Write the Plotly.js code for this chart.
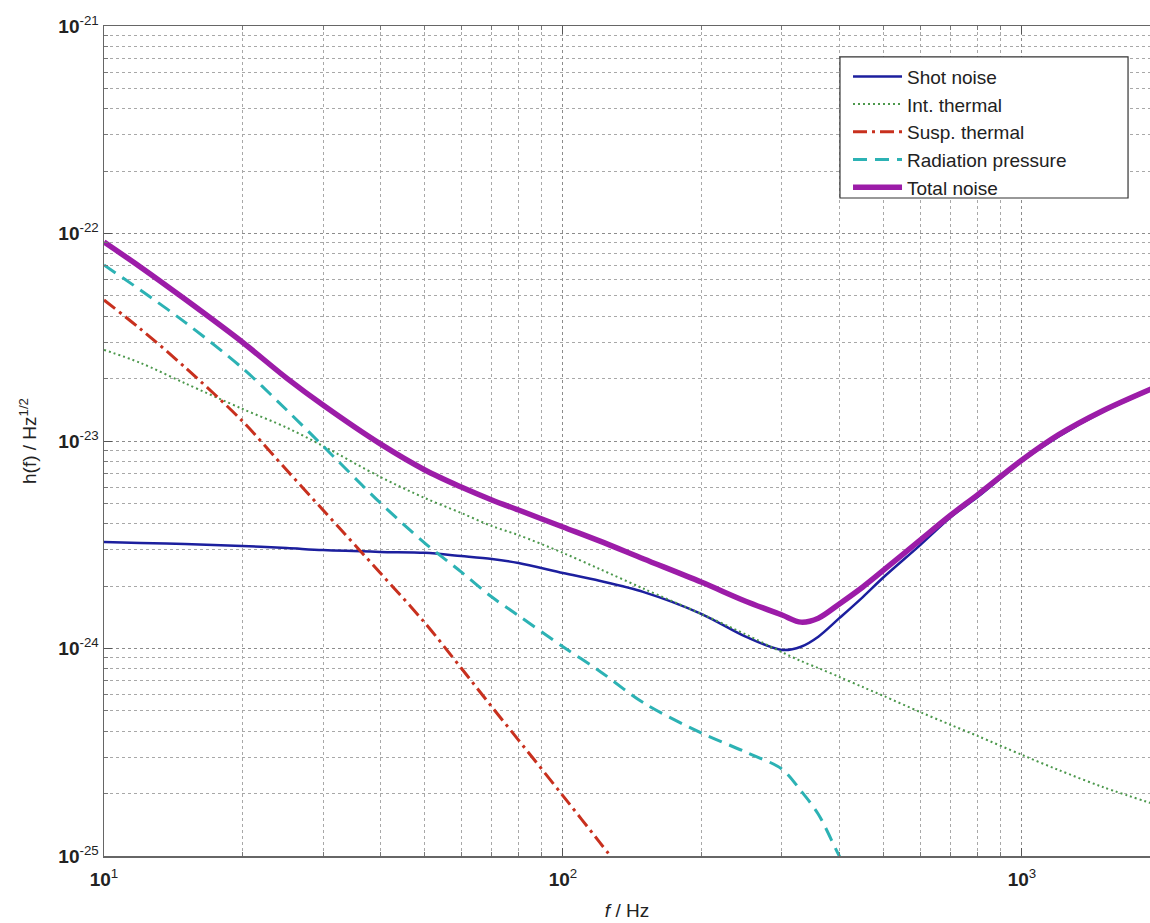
<!DOCTYPE html>
<html>
<head>
<meta charset="utf-8">
<script src="https://cdn.plot.ly/plotly-3.0.1.min.js"></script>
<style>html,body{margin:0;padding:0;background:#fff;overflow:hidden}</style>
</head>
<body>
<div id="chart" style="width:1150px;height:923px"></div>
<script>
// Frequencies (Hz)
var freq = [10,12,15,20,25,30,40,50,60,70,80,100,120,150,200,250,300,330,360,400,450,500,600,700,800,1000,1200,1500,2000];
// Shot noise
var shotNoise = [3.26e-24,3.22e-24,3.19e-24,3.12e-24,3.05e-24,2.98e-24,2.92e-24,2.89e-24,2.79e-24,2.70e-24,2.58e-24,2.31e-24,2.12e-24,1.87e-24,1.47e-24,1.14e-24,0.984e-24,1.02e-24,1.14e-24,1.40e-24,1.77e-24,2.21e-24,3.15e-24,4.30e-24,5.37e-24,8.0e-24,1.05e-23,1.38e-23,1.84e-23];
// Internal thermal
var intThermal = [2.75e-23,2.38e-23,1.90e-23,1.43e-23,1.16e-23,9.46e-24,6.71e-24,5.31e-24,4.50e-24,3.89e-24,3.52e-24,2.89e-24,2.42e-24,1.94e-24,1.47e-24,1.17e-24,9.6e-25,8.7e-25,8.05e-25,7.29e-25,6.52e-25,5.9e-25,4.94e-25,4.28e-25,3.79e-25,3.07e-25,2.6e-25,2.15e-25,1.74e-25];
// Suspension thermal
var suspThermal = [4.78e-23,3.47e-23,2.27e-23,1.25e-23,7.24e-24,4.65e-24,2.31e-24,1.33e-24,8.05e-25,5.23e-25,3.62e-25,1.95e-25,1.17e-25,6.2e-26,null,null,null,null,null,null,null,null,null,null,null,null,null,null,null];
// Radiation pressure
var radPressure = [7.05e-23,5.34e-23,3.74e-23,2.25e-23,1.41e-23,9.46e-24,5.03e-24,3.22e-24,2.34e-24,1.77e-24,1.44e-24,1.02e-24,7.8e-25,5.46e-25,3.92e-25,3.17e-25,2.62e-25,2.06e-25,1.59e-25,1.0e-25,6.2e-26,null,null,null,null,null,null,null,null];
// Total noise
var totalNoise = [9.1e-23,6.9e-23,4.83e-23,3.0e-23,2.01e-23,1.49e-23,9.68e-24,7.25e-24,6.0e-24,5.2e-24,4.65e-24,3.85e-24,3.30e-24,2.70e-24,2.09e-24,1.69e-24,1.45e-24,1.34e-24,1.40e-24,1.64e-24,1.98e-24,2.39e-24,3.33e-24,4.40e-24,5.50e-24,8.1e-24,1.07e-23,1.40e-23,1.86e-23];

var seriesNames = ["Shot noise","Int. thermal","Susp. thermal","Radiation pressure","Total noise"];

var xTickVals = [10,100,1000];
var xTickText = ["<b>10</b><sup>1</sup>","<b>10</b><sup>2</sup>","<b>10</b><sup>3</sup>"];
var yTickVals = [1e-25,1e-24,1e-23,1e-22,1e-21];
var yTickText = ["<b>10</b><sup>-25</sup>","<b>10</b><sup>-24</sup>","<b>10</b><sup>-23</sup>","<b>10</b><sup>-22</sup>","<b>10</b><sup>-21</sup>"];

var xMinor = [], yMinor = [];
for (var d = 1; d <= 3; d++) for (var m = 2; m <= 9; m++) xMinor.push(m * Math.pow(10, d));
for (var e = -25; e <= -22; e++) for (var k = 2; k <= 9; k++) yMinor.push(k * Math.pow(10, e));

var sm = 0.9;
var traces = [
  {x: freq, y: shotNoise, name: seriesNames[0], mode: "lines", line: {color: "#1c1f9e", width: 2.5, shape: "spline", smoothing: sm}, legendgroup: "a"},
  {x: freq, y: intThermal, name: seriesNames[1], mode: "lines", line: {color: "#4c984c", width: 2, dash: "2px,3px", shape: "spline", smoothing: sm}, legendgroup: "b"},
  {x: freq, y: suspThermal, name: seriesNames[2], mode: "lines", line: {color: "#c8301e", width: 3, dash: "14px,5px,3px,5px", shape: "spline", smoothing: sm}, legendgroup: "c"},
  {x: freq, y: radPressure, name: seriesNames[3], mode: "lines", line: {color: "#2cb2b4", width: 3, dash: "14px,8px", shape: "spline", smoothing: sm}, legendgroup: "d"},
  {x: freq, y: totalNoise, name: seriesNames[4], mode: "lines", line: {color: "#9c1ca8", width: 5.5, shape: "spline", smoothing: sm}, legendgroup: "e"}
];

var axisFont = {family: "Liberation Sans, Arial, sans-serif", size: 19, color: "#222"};

var layout = {
  width: 1150, height: 923,
  margin: {l: 104, r: 0, t: 26, b: 67},
  paper_bgcolor: "#fff", plot_bgcolor: "#fff",
  showlegend: true,
  font: axisFont,
  xaxis: {
    type: "log", range: [1, 3.2789],
    tickmode: "array", tickvals: xTickVals, ticktext: xTickText,
    ticks: "inside", ticklen: 8, tickcolor: "#555", tickwidth: 1,
    showline: true, linecolor: "#666", linewidth: 1.5, mirror: "ticks",
    showgrid: true, gridcolor: "#8c8c8c", griddash: "dot", gridwidth: 1,
    minor: {tickmode: "array", tickvals: xMinor, ticks: "inside", ticklen: 4, tickcolor: "#777", showgrid: true, gridcolor: "#a8a8a8", griddash: "dot", gridwidth: 1},
    zeroline: false,
    tickfont: axisFont,
    ticklabelstandoff: 6,
    title: {text: "<i>f</i> / Hz", font: axisFont, standoff: 14},
    automargin: false
  },
  yaxis: {
    type: "log", range: [-25, -21],
    tickmode: "array", tickvals: yTickVals, ticktext: yTickText,
    ticks: "inside", ticklen: 8, tickcolor: "#555", tickwidth: 1,
    showline: true, linecolor: "#666", linewidth: 1.5,
    showgrid: true, gridcolor: "#8c8c8c", griddash: "dot", gridwidth: 1,
    minor: {tickmode: "array", tickvals: yMinor, ticks: "inside", ticklen: 4, tickcolor: "#777", showgrid: true, gridcolor: "#a8a8a8", griddash: "dot", gridwidth: 1},
    zeroline: false,
    tickfont: axisFont,
    ticklabelstandoff: 0,
    title: {text: "h(f) / Hz<sup>1/2</sup>", font: axisFont, standoff: 16},
    automargin: false
  },
  shapes: [
    {type: "rect", xref: "paper", yref: "paper", x0: 0.7036, x1: 0.979, y0: 0.7928, y1: 0.9627,
     fillcolor: "#fff", line: {color: "#333", width: 1.2}, layer: "above"}
  ],
  legend: {
    x: 0.7113, y: 0.962, xanchor: "left", yanchor: "top",
    bgcolor: "rgba(0,0,0,0)", borderwidth: 0,
    font: {family: "Liberation Sans, Arial, sans-serif", size: 19, color: "#222"},
    traceorder: "normal", itemwidth: 49, tracegroupgap: 0
  }
};

Plotly.newPlot("chart", traces, layout, {displayModeBar: false, staticPlot: true});
</script>
</body>
</html>
